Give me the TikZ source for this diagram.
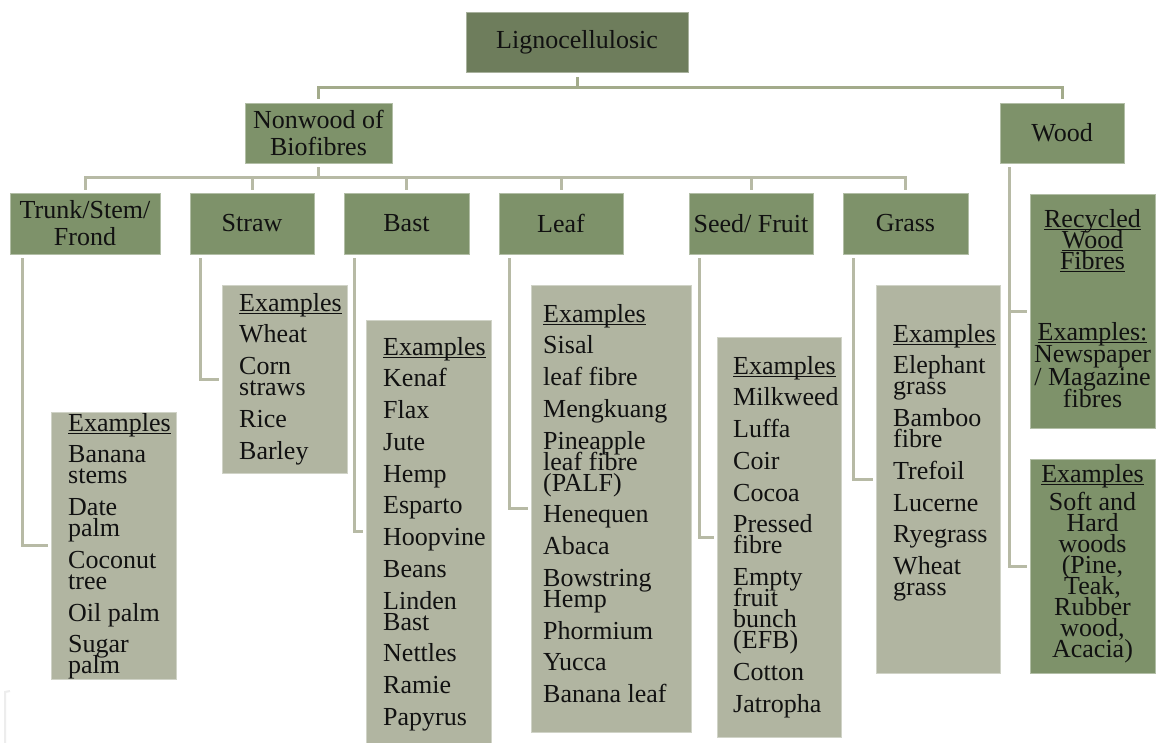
\documentclass[tikz,border=0pt]{standalone}
\usepackage{fontspec}
\setmainfont{Liberation Serif}
\definecolor{topfill}{HTML}{6E7D5C}
\definecolor{lvlfill}{HTML}{7E926A}
\definecolor{exfill}{HTML}{B1B5A1}
\definecolor{topline}{HTML}{A3AB8B}
\definecolor{subline}{HTML}{B7BAA5}
\definecolor{txt}{HTML}{111111}
\newcommand\exfont{\fontsize{26}{21}\selectfont\lineskiplimit=-\maxdimen\lineskip=0pt}
\newcommand\catfont{\fontsize{26}{27}\selectfont\lineskiplimit=-\maxdimen\lineskip=0pt}
\newcommand\exul[1]{\leavevmode\setbox0=\hbox{#1}\rlap{\rule[-3pt]{\wd0}{1.2pt}}\box0}
\newcommand\st{\leavevmode\rule{0pt}{20pt}}
\newcommand\nx{\\[10.75pt]}
\begin{document}
\begin{tikzpicture}[x=1pt,y=-1pt,
  catbox/.style={fill=lvlfill, draw=lvlfill!60!white, line width=0.8pt, inner sep=2pt, align=center, font=\catfont, text=txt},
  topbox/.style={catbox, fill=topfill, draw=topfill!60!white},
  exbox/.style={fill=exfill, draw=exfill!60!white, line width=0.8pt, inner sep=0pt},
  woodbox/.style={fill=lvlfill, draw=lvlfill!60!white, line width=0.8pt, inner sep=0pt},
  exlist/.style={anchor=north west, inner sep=0pt, text width=160pt, align=flush left, font=\exfont, text=txt},
  woodtxt/.style={anchor=north, inner sep=0pt, text width=125pt, align=flush center, font=\exfont, text=txt},
  conn/.style={draw=subline, line width=3pt, line join=miter},
  tconn/.style={draw=topline, line width=3pt, line join=miter}]
\useasboundingbox (0,0) rectangle (1161,743);
\fill[white] (0,0) rectangle (1161,743);

% top levels
\node[topbox, minimum width=222pt, minimum height=60pt] (ligno) at (577,42) {Lignocellulosic};
\node[catbox, minimum width=147pt, minimum height=60pt] (nonwood) at (318.5,133) {Nonwood of\\Biofibres};
\node[catbox, minimum width=124pt, minimum height=60pt] (wood) at (1062,133) {Wood};

% categories
\node[catbox, minimum width=150pt, minimum height=61pt] (trunk) at (85,223.5) {Trunk/Stem/\\Frond};
\node[catbox, minimum width=124pt, minimum height=61pt] (straw) at (252,223.5) {Straw};
\node[catbox, minimum width=125pt, minimum height=61pt] (bast) at (406.5,223.5) {Bast};
\node[catbox, minimum width=124pt, minimum height=61pt] (leaf) at (561,223.5) {Leaf};
\node[catbox, minimum width=124pt, minimum height=61pt] (seed) at (751,223.5) {Seed/ Fruit};
\node[catbox, minimum width=125pt, minimum height=61pt] (grass) at (905.5,223.5) {Grass};

% example boxes
\node[exbox, minimum width=125pt, minimum height=267pt] (trunkex) at (113.5,545.5) {};
\node[exbox, minimum width=125pt, minimum height=188pt] (strawex) at (284.5,379) {};
\node[exbox, minimum width=125pt, minimum height=423pt] (bastex) at (428.5,531.5) {};
\node[exbox, minimum width=160pt, minimum height=447pt] (leafex) at (611,508.5) {};
\node[exbox, minimum width=124pt, minimum height=400pt] (seedex) at (779,537) {};
\node[exbox, minimum width=124pt, minimum height=388pt] (grassex) at (938,479) {};
\node[woodbox, minimum width=125pt, minimum height=234pt] (recex) at (1092.5,311) {};
\node[woodbox, minimum width=125pt, minimum height=214pt] (softex) at (1092.5,566) {};

% example texts
\node[exlist] (trunktxt) at (68,411) {\st\exul{Examples}\nx Banana\\stems\nx Date\\palm\nx Coconut\\tree\nx Oil palm\nx Sugar\\palm};
\node[exlist] (strawtxt) at (239,291) {\st\exul{Examples}\nx Wheat\nx Corn\\straws\nx Rice\nx Barley};
\node[exlist] (basttxt) at (383,335) {\st\exul{Examples}\nx Kenaf\nx Flax\nx Jute\nx Hemp\nx Esparto\nx Hoopvine\nx Beans\nx Linden\\Bast\nx Nettles\nx Ramie\nx Papyrus};
\node[exlist] (leaftxt) at (543,302) {\st\exul{Examples}\nx Sisal\nx leaf fibre\nx Mengkuang\nx Pineapple\\leaf fibre\\(PALF)\nx Henequen\nx Abaca\nx Bowstring\\Hemp\nx Phormium\nx Yucca\nx Banana leaf};
\node[exlist] (seedtxt) at (733,354) {\st\exul{Examples}\nx Milkweed\nx Luffa\nx Coir\nx Cocoa\nx Pressed\\fibre\nx Empty\\fruit\\bunch\\(EFB)\nx Cotton\nx Jatropha};
\node[exlist] (grasstxt) at (893,322) {\st\exul{Examples}\nx Elephant\\grass\nx Bamboo\\fibre\nx Trefoil\nx Lucerne\nx Ryegrass\nx Wheat\\grass};

\node[woodtxt] (rectxt) at (1092.5,207) {\st\exul{Recycled}\\\exul{Wood}\\\exul{Fibres}};
\node[woodtxt] (rectxtb) at (1092.5,320) {\st\exul{Examples:}\\[1.5pt]Newspaper\\[1.5pt]/ Magazine\\[1.5pt]fibres};
\node[woodtxt] (softtxt) at (1092.5,462) {\st\exul{Examples}\\[7pt]Soft and\\Hard\\woods\\(Pine,\\Teak,\\Rubber\\wood,\\Acacia)};

% connectors
\coordinate (h1) at (0,88);
\coordinate (h2) at (0,178);
\draw[tconn] ([yshift=-5pt]ligno.south) -- (ligno.south |- h1);
\draw[tconn] ([yshift=4pt]nonwood.north) -- (nonwood.north |- h1) -- (wood.north |- h1) -- ([yshift=4pt]wood.north);

\draw[conn] ([yshift=-4pt]nonwood.south) -- (nonwood.south |- h2);
\draw[conn] ([yshift=3pt]trunk.north) -- (trunk.north |- h2) -- (grass.north |- h2) -- ([yshift=3pt]grass.north);
\foreach \n in {straw,bast,leaf,seed}
  \draw[conn] ([yshift=3pt]\n.north) -- (\n.north |- h2);

\draw[conn] ([xshift=13pt,yshift=-4pt]trunk.south west) |- ([xshift=-3pt]trunkex.west);
\draw[conn] ([xshift=11pt,yshift=-4pt]straw.south west) |- ([xshift=-3pt]strawex.west);
\draw[conn] ([xshift=11pt,yshift=-4pt]bast.south west) |- ([xshift=-3pt]bastex.west);
\draw[conn] ([xshift=11pt,yshift=-4pt]leaf.south west) |- ([xshift=-3pt]leafex.west);
\draw[conn] ([xshift=11pt,yshift=-4pt]seed.south west) |- ([xshift=-3pt]seedex.west);
\draw[conn] ([xshift=11pt,yshift=-4pt]grass.south west) |- ([xshift=-3pt]grassex.west);
\coordinate (wj) at ([xshift=10pt,yshift=-4pt]wood.south west);
\draw[conn] (wj) |- ([xshift=-3pt]softex.west);
\draw[conn] (wj |- recex.west) -- ([xshift=-3pt]recex.west);

% faint mark at bottom left
\draw[black!7, line width=2pt] (10,691) -- (5,692) -- (5,743);
\end{tikzpicture}
\end{document}
